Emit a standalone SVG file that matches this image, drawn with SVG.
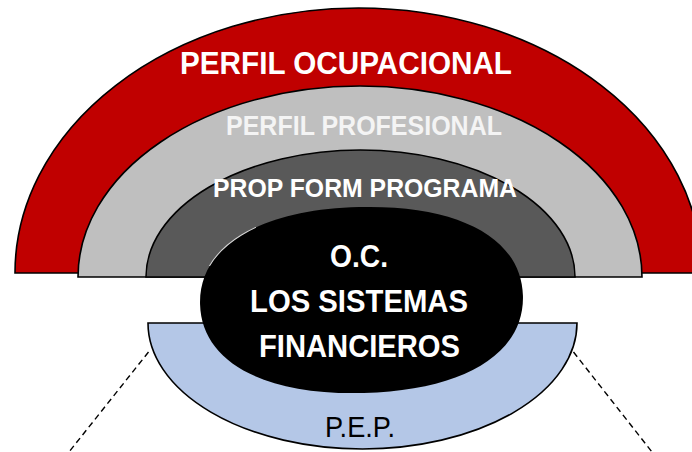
<svg xmlns="http://www.w3.org/2000/svg" width="692" height="452" viewBox="0 0 692 452">
  <style>
    .band { stroke: #000; stroke-width: 1.6; stroke-linejoin: miter; }
    .lbl { font-family: "Liberation Sans", Arial, sans-serif; font-weight: bold; text-anchor: start; }
    .dash { stroke: #000; stroke-width: 1.4; stroke-dasharray: 6 4; fill: none; }
  </style>
  <defs>
    <path id="ocShape" d="M -161.5 0 C -161.5 -57.7 -100.1 -93 0 -93 C 100.1 -93 161.5 -57.7 161.5 0 C 161.5 57.7 100.1 93 0 93 C -100.1 93 -161.5 57.7 -161.5 0 Z"/>
    <clipPath id="hiClip">
      <rect x="208" y="226" width="48" height="40"/>
    </clipPath>
  </defs>
  <rect width="692" height="452" fill="#fff"/>

  <g id="node-perfil-ocupacional">
    <path class="band" fill="#c00000" d="M 15 273 A 343.5 265 0 0 1 702 273 Z"/>
    <text class="lbl" x="180" y="74" font-size="30.5" fill="#ffffff" textLength="332" lengthAdjust="spacingAndGlyphs">PERFIL OCUPACIONAL</text>
  </g>

  <g id="node-perfil-profesional">
    <path class="band" fill="#bfbfbf" d="M 78 277 A 282 191 0 0 1 642 277 Z"/>
    <text class="lbl" x="226" y="135" font-size="28" fill="#f4f4f4" textLength="276" lengthAdjust="spacingAndGlyphs">PERFIL PROFESIONAL</text>
  </g>

  <g id="node-prop-form-programa">
    <path class="band" fill="#595959" d="M 146 277 A 214.5 127 0 0 1 575 277 Z"/>
    <text class="lbl" x="213" y="197" font-size="25.7" fill="#ffffff" textLength="304" lengthAdjust="spacingAndGlyphs">PROP FORM PROGRAMA</text>
  </g>

  <g id="connectors">
    <line class="dash" x1="148.5" y1="352" x2="69" y2="452"/>
    <line class="dash" x1="573.5" y1="352" x2="652" y2="452"/>
  </g>

  <g id="node-pep">
    <path class="band" fill="#b4c7e7" d="M 148 323 L 577 323 A 214.5 126 0 0 1 148 323 Z"/>
    <text x="325" y="437" font-family="Liberation Sans, Arial, sans-serif" font-size="30" fill="#000" textLength="70" lengthAdjust="spacingAndGlyphs">P.E.P.</text>
  </g>

  <g id="node-oc">
    <use href="#ocShape" fill="#000" transform="translate(361.5,300) rotate(-1.5)"/>
    <g clip-path="url(#hiClip)">
      <use href="#ocShape" fill="none" stroke="#d8d8d8" stroke-width="1" transform="translate(361.5,300) rotate(-1.5)"/>
    </g>
    <text class="lbl" x="330" y="267" font-size="31" fill="#ffffff" textLength="58" lengthAdjust="spacingAndGlyphs">O.C.</text>
    <text class="lbl" x="250" y="312" font-size="31" fill="#ffffff" textLength="218" lengthAdjust="spacingAndGlyphs">LOS SISTEMAS</text>
    <text class="lbl" x="259" y="357" font-size="31" fill="#ffffff" textLength="201" lengthAdjust="spacingAndGlyphs">FINANCIEROS</text>
  </g>
</svg>
